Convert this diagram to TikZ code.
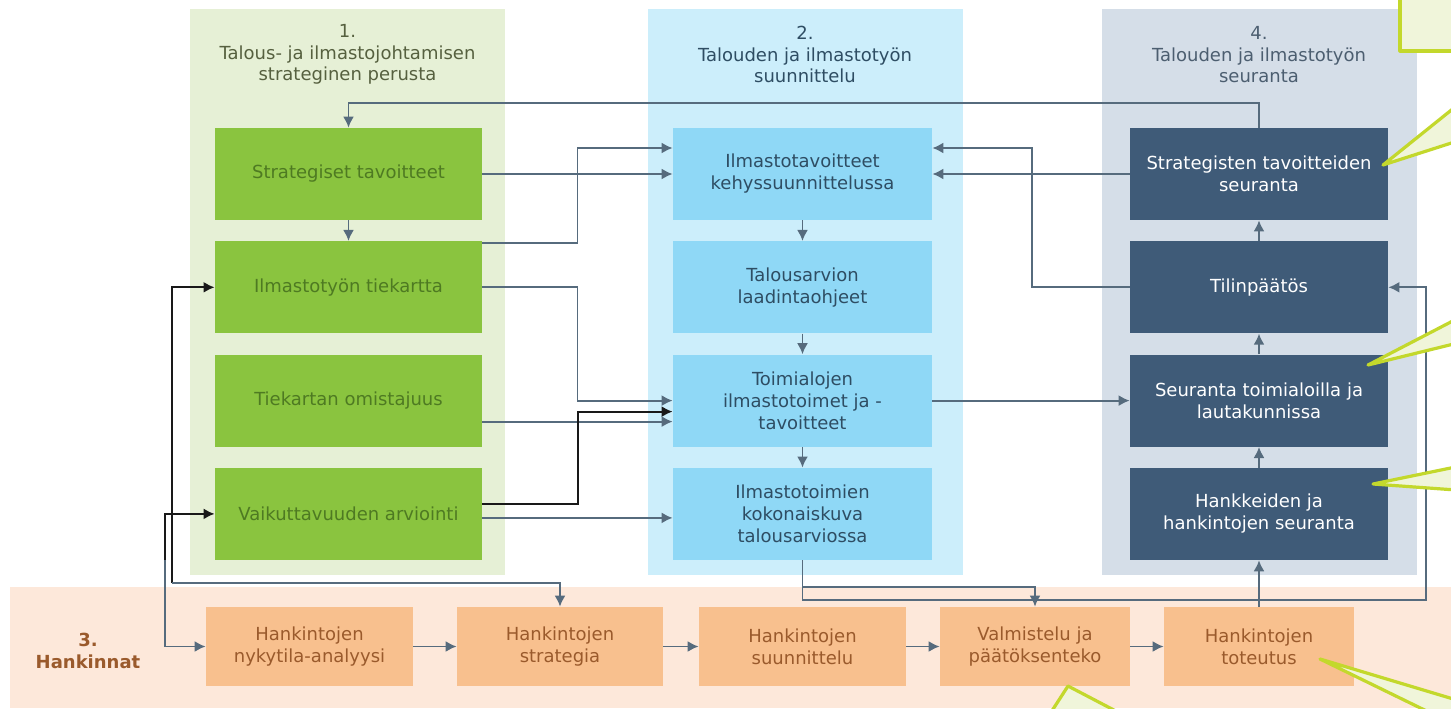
\documentclass[tikz,border=0pt]{standalone}
\usepackage{fontspec}
\setmainfont{DejaVu Sans}
\usetikzlibrary{positioning, arrows.meta, calc}

\definecolor{bggreen}{HTML}{E6F0D6}
\definecolor{boxgreen}{HTML}{8AC43F}
\definecolor{txtgreen}{HTML}{4E7A22}
\definecolor{ttlgreen}{HTML}{56603F}
\definecolor{bgblue}{HTML}{CCEEFB}
\definecolor{boxblue}{HTML}{8FD8F6}
\definecolor{txtblue}{HTML}{2E4D63}
\definecolor{bgslate}{HTML}{D5DEE8}
\definecolor{boxslate}{HTML}{3F5B78}
\definecolor{ttlslate}{HTML}{4C5E70}
\definecolor{bgpeach}{HTML}{FDE8DA}
\definecolor{boxorange}{HTML}{F8C08E}
\definecolor{txtorange}{HTML}{9A5A2C}
\definecolor{linegray}{HTML}{566B7D}
\definecolor{callfill}{HTML}{F0F5DA}
\definecolor{calldraw}{HTML}{C3D82C}

\tikzset{
  colbg/.style={inner sep=0pt, minimum width=157.5pt, minimum height=283pt},
  coltitle/.style={align=center, font=\fontsize{9}{10.75}\selectfont},
  box/.style={inner sep=2pt, align=center, minimum height=46pt, font=\fontsize{9}{11}\selectfont},
  greenbox/.style={box, fill=boxgreen, text=txtgreen, minimum width=133.5pt},
  bluebox/.style={box, fill=boxblue, text=txtblue, minimum width=129.5pt},
  darkbox/.style={box, fill=boxslate, text=white, minimum width=129pt},
  orangebox/.style={box, fill=boxorange, text=txtorange, minimum height=39.5pt},
  conn/.style={->, draw=linegray, line width=0.9pt},
  connb/.style={->, draw=black!90, line width=1pt},
  callout/.style={fill=callfill, draw=calldraw, line width=1.6pt, line join=round},
}

\begin{document}
\begin{tikzpicture}[x=0.5pt, y=-0.5pt, >={Latex[length=5.5pt,width=5.5pt]}, node distance=10.25pt]
  \useasboundingbox (0,0) rectangle (1451,708);

  % columns and band
  \node[colbg, fill=bggreen] (col1) at (347.5,292) {};
  \node[colbg, fill=bgblue] (col2) at (805,292) {};
  \node[colbg, fill=bgslate] (col4) at (1259,292) {};
  \node[inner sep=0pt, fill=bgpeach, minimum width=720.5pt, minimum height=60.5pt] (band) at (730.5,647.5) {};

  \node[coltitle, text=ttlgreen] (t1) at ([yshift=-23pt]col1.north) {1.\\Talous- ja ilmastojohtamisen\\strateginen perusta};
  \node[coltitle, text=txtblue] (t2) at ([yshift=-23pt]col2.north) {2.\\Talouden ja ilmastotyön\\suunnittelu};
  \node[coltitle, text=ttlslate] (t4) at ([yshift=-23pt]col4.north) {4.\\Talouden ja ilmastotyön\\seuranta};
  \node[align=center, font=\bfseries\fontsize{9}{11}\selectfont, text=txtorange] (hlbl) at (88,651) {3.\\Hankinnat};

  \node[greenbox] (stg) at (348.5,174) {Strategiset tavoitteet};
  \node[greenbox, below=of stg] (tiek) {Ilmastotyön tiekartta};
  \node[greenbox, below=of tiek] (omist) {Tiekartan omistajuus};
  \node[greenbox, below=of omist] (vaik) {Vaikuttavuuden arviointi};

  \node[bluebox] (kehys) at (802.5,174) {Ilmastotavoitteet\\kehyssuunnittelussa};
  \node[bluebox, below=of kehys] (ohje) {Talousarvion\\laadintaohjeet};
  \node[bluebox, below=of ohje] (toimi) {Toimialojen\\ilmastotoimet ja -\\tavoitteet};
  \node[bluebox, below=of toimi] (koko) {Ilmastotoimien\\kokonaiskuva\\talousarviossa};

  \node[darkbox] (strseur) at (1259,174) {Strategisten tavoitteiden\\seuranta};
  \node[darkbox, below=of strseur] (tilin) {Tilinpäätös};
  \node[darkbox, below=of tilin] (seur) {Seuranta toimialoilla ja\\lautakunnissa};
  \node[darkbox, below=of seur] (hankseur) {Hankkeiden ja\\hankintojen seuranta};

  \node[orangebox, minimum width=103.5pt] (nyky) at (309.5,646.5) {Hankintojen\\nykytila-analyysi};
  \node[orangebox, minimum width=103pt] (hstrat) at (560,646.5) {Hankintojen\\strategia};
  \node[orangebox, minimum width=103.5pt] (hsuun) at (802.5,646.5) {Hankintojen\\suunnittelu};
  \node[orangebox, minimum width=95pt] (valm) at (1035,646.5) {Valmistelu ja\\päätöksenteko};
  \node[orangebox, minimum width=95pt] (tot) at (1259,646.5) {Hankintojen\\toteutus};

  % flows inside columns
  \draw[conn] (stg) -- (tiek);
  \draw[conn] (kehys) -- (ohje);
  \draw[conn] (ohje) -- (toimi);
  \draw[conn] (toimi) -- (koko);
  \draw[conn] (hankseur) -- (seur);
  \draw[conn] (seur) -- (tilin);
  \draw[conn] (tilin) -- (strseur);
  \draw[conn] (tot) -- (hankseur);

  \draw[conn] (nyky) -- (hstrat);
  \draw[conn] (hstrat) -- (hsuun);
  \draw[conn] (hsuun) -- (valm);
  \draw[conn] (valm) -- (tot);

  % between columns
  \draw[conn] (strseur.north) -- ++(0,-25) -| (stg.north);
  \draw[conn] (stg.east) -- (kehys.west);
  \draw[conn] ([yshift=-1pt]tiek.north east) -- ++(95,0) |- ([yshift=13pt]kehys.west);
  \draw[conn] (tiek.east) -- ++(95,0) |- (toimi.west);
  \draw[conn] ([yshift=-10.5pt]omist.east) -- ([yshift=-10.5pt]toimi.west);
  \draw[connb] ([yshift=4.75pt]vaik.east) -- ++(96,0) |- ([yshift=-5.5pt]toimi.west);
  \draw[conn] ([yshift=-2pt]vaik.east) -- ([yshift=-2pt]koko.west);
  \draw[conn] (toimi.east) -- (seur.west);
  \draw[conn] (strseur.west) -- (kehys.east);
  \draw[conn] (tilin.west) -- ++(-98,0) |- ([yshift=13pt]kehys.east);
  \draw[conn] (koko.south) -- ++(0,27) -| (valm.north);
  \draw[conn] (koko.south) -- ++(0,40) -- ++(623.5,0) |- (tilin.east);

  % left feed
  \coordinate (j1) at (172,583);
  \coordinate (j2) at (165,560);
  \draw[connb] (j1) |- (tiek.west);
  \draw[conn] (j1) -| (hstrat.north);
  \draw[connb] (j2) |- (vaik.west);
  \draw[conn] (j2) |- (nyky.west);

  % callouts
  \begin{scope}
    \clip (0,0) rectangle (1451,708);
    \draw[callout] (1400,-10) rectangle (1470,51);
    \draw[callout] (1470,95) -- (1383,165) -- (1470,137) -- cycle;
    \draw[callout] (1470,312) -- (1368,365) -- (1470,340) -- cycle;
    \draw[callout] (1470,464) -- (1373,484) -- (1470,491) -- cycle;
    \draw[callout] (1046,720) -- (1068,686) -- (1133,720) -- cycle;
    \draw[callout] (1470,704) -- (1320,659) -- (1445,720) -- (1470,720) -- cycle;
  \end{scope}
\end{tikzpicture}
\end{document}
